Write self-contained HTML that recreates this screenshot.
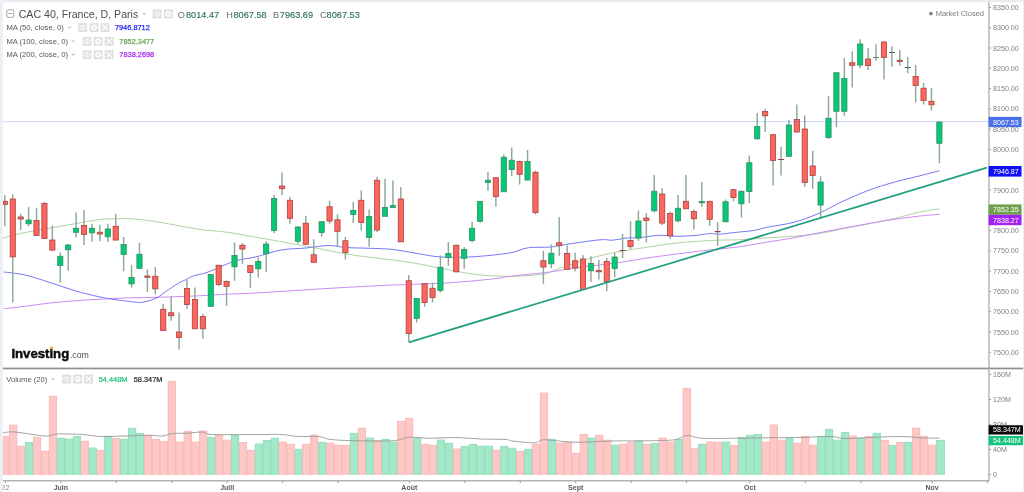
<!DOCTYPE html>
<html lang="fr"><head><meta charset="utf-8"><title>CAC 40, France, D, Paris</title>
<style>html,body{margin:0;padding:0;background:#fff;overflow:hidden}svg{display:block;will-change:transform;font-family:"Liberation Sans", sans-serif}text{white-space:pre}</style>
</head><body>
<svg width="1024" height="492" viewBox="0 0 1024 492">
<rect width="1024" height="492" fill="#fff"/>
<rect x="0" y="0" width="1024" height="2.3" fill="#e9ecf1"/>
<rect x="1023" y="0" width="1" height="492" fill="#eceff4"/>
<g shape-rendering="crispEdges">
<rect x="3.00" y="436.00" width="6.39" height="38.50" fill="#fdc8c6"/>
<rect x="9.39" y="424.50" width="7.92" height="50.00" fill="#fdc8c6"/>
<rect x="17.31" y="446.00" width="7.92" height="28.50" fill="#fdc8c6"/>
<rect x="25.23" y="442.25" width="7.92" height="32.25" fill="#a3e8c9"/>
<rect x="33.15" y="437.00" width="7.92" height="37.50" fill="#fdc8c6"/>
<rect x="41.07" y="450.75" width="7.92" height="23.75" fill="#fdc8c6"/>
<rect x="48.99" y="396.00" width="7.92" height="78.50" fill="#fdc8c6"/>
<rect x="56.91" y="437.75" width="7.92" height="36.75" fill="#a3e8c9"/>
<rect x="64.83" y="438.50" width="7.92" height="36.00" fill="#a3e8c9"/>
<rect x="72.75" y="436.25" width="7.92" height="38.25" fill="#a3e8c9"/>
<rect x="80.67" y="441.00" width="7.92" height="33.50" fill="#fdc8c6"/>
<rect x="88.59" y="447.50" width="7.92" height="27.00" fill="#a3e8c9"/>
<rect x="96.51" y="450.00" width="7.92" height="24.50" fill="#fdc8c6"/>
<rect x="104.43" y="436.00" width="7.92" height="38.50" fill="#a3e8c9"/>
<rect x="112.35" y="438.25" width="7.92" height="36.25" fill="#fdc8c6"/>
<rect x="120.27" y="439.00" width="7.92" height="35.50" fill="#a3e8c9"/>
<rect x="128.19" y="428.00" width="7.92" height="46.50" fill="#a3e8c9"/>
<rect x="136.11" y="433.25" width="7.92" height="41.25" fill="#a3e8c9"/>
<rect x="144.03" y="435.25" width="7.92" height="39.25" fill="#fdc8c6"/>
<rect x="151.95" y="439.00" width="7.92" height="35.50" fill="#fdc8c6"/>
<rect x="159.87" y="441.00" width="7.92" height="33.50" fill="#fdc8c6"/>
<rect x="167.79" y="381.00" width="7.92" height="93.50" fill="#fdc8c6"/>
<rect x="175.71" y="441.50" width="7.92" height="33.00" fill="#fdc8c6"/>
<rect x="183.63" y="431.00" width="7.92" height="43.50" fill="#fdc8c6"/>
<rect x="191.55" y="441.50" width="7.92" height="33.00" fill="#fdc8c6"/>
<rect x="199.47" y="430.50" width="7.92" height="44.00" fill="#fdc8c6"/>
<rect x="207.39" y="437.00" width="7.92" height="37.50" fill="#a3e8c9"/>
<rect x="215.31" y="435.00" width="7.92" height="39.50" fill="#fdc8c6"/>
<rect x="223.23" y="439.75" width="7.92" height="34.75" fill="#fdc8c6"/>
<rect x="231.15" y="434.50" width="7.92" height="40.00" fill="#a3e8c9"/>
<rect x="239.07" y="442.25" width="7.92" height="32.25" fill="#fdc8c6"/>
<rect x="246.99" y="450.00" width="7.92" height="24.50" fill="#fdc8c6"/>
<rect x="254.91" y="443.50" width="7.92" height="31.00" fill="#a3e8c9"/>
<rect x="262.83" y="440.25" width="7.92" height="34.25" fill="#a3e8c9"/>
<rect x="270.75" y="437.75" width="7.92" height="36.75" fill="#a3e8c9"/>
<rect x="278.67" y="441.50" width="7.92" height="33.00" fill="#fdc8c6"/>
<rect x="286.59" y="444.00" width="7.92" height="30.50" fill="#fdc8c6"/>
<rect x="294.51" y="449.00" width="7.92" height="25.50" fill="#a3e8c9"/>
<rect x="302.43" y="444.00" width="7.92" height="30.50" fill="#fdc8c6"/>
<rect x="310.35" y="434.50" width="7.92" height="40.00" fill="#fdc8c6"/>
<rect x="318.27" y="442.00" width="7.92" height="32.50" fill="#a3e8c9"/>
<rect x="326.19" y="442.75" width="7.92" height="31.75" fill="#fdc8c6"/>
<rect x="334.11" y="444.75" width="7.92" height="29.75" fill="#fdc8c6"/>
<rect x="342.03" y="445.25" width="7.92" height="29.25" fill="#fdc8c6"/>
<rect x="349.95" y="433.00" width="7.92" height="41.50" fill="#a3e8c9"/>
<rect x="357.87" y="427.75" width="7.92" height="46.75" fill="#fdc8c6"/>
<rect x="365.79" y="437.50" width="7.92" height="37.00" fill="#a3e8c9"/>
<rect x="373.71" y="440.25" width="7.92" height="34.25" fill="#fdc8c6"/>
<rect x="381.63" y="439.00" width="7.92" height="35.50" fill="#a3e8c9"/>
<rect x="389.55" y="441.75" width="7.92" height="32.75" fill="#a3e8c9"/>
<rect x="397.47" y="421.00" width="7.92" height="53.50" fill="#fdc8c6"/>
<rect x="405.39" y="418.00" width="7.92" height="56.50" fill="#fdc8c6"/>
<rect x="413.31" y="437.75" width="7.92" height="36.75" fill="#a3e8c9"/>
<rect x="421.23" y="444.00" width="7.92" height="30.50" fill="#fdc8c6"/>
<rect x="429.15" y="445.25" width="7.92" height="29.25" fill="#fdc8c6"/>
<rect x="437.07" y="439.50" width="7.92" height="35.00" fill="#a3e8c9"/>
<rect x="444.99" y="442.75" width="7.92" height="31.75" fill="#a3e8c9"/>
<rect x="452.91" y="448.50" width="7.92" height="26.00" fill="#fdc8c6"/>
<rect x="460.83" y="446.00" width="7.92" height="28.50" fill="#a3e8c9"/>
<rect x="468.75" y="444.00" width="7.92" height="30.50" fill="#a3e8c9"/>
<rect x="476.67" y="445.75" width="7.92" height="28.75" fill="#a3e8c9"/>
<rect x="484.59" y="445.75" width="7.92" height="28.75" fill="#a3e8c9"/>
<rect x="492.51" y="449.75" width="7.92" height="24.75" fill="#fdc8c6"/>
<rect x="500.43" y="446.00" width="7.92" height="28.50" fill="#a3e8c9"/>
<rect x="508.35" y="447.75" width="7.92" height="26.75" fill="#a3e8c9"/>
<rect x="516.27" y="451.00" width="7.92" height="23.50" fill="#fdc8c6"/>
<rect x="524.19" y="449.00" width="7.92" height="25.50" fill="#a3e8c9"/>
<rect x="532.11" y="444.00" width="7.92" height="30.50" fill="#fdc8c6"/>
<rect x="540.03" y="392.50" width="7.92" height="82.00" fill="#fdc8c6"/>
<rect x="547.95" y="439.00" width="7.92" height="35.50" fill="#a3e8c9"/>
<rect x="555.87" y="442.75" width="7.92" height="31.75" fill="#fdc8c6"/>
<rect x="563.79" y="441.50" width="7.92" height="33.00" fill="#fdc8c6"/>
<rect x="571.71" y="452.75" width="7.92" height="21.75" fill="#fdc8c6"/>
<rect x="579.63" y="434.25" width="7.92" height="40.25" fill="#fdc8c6"/>
<rect x="587.55" y="437.50" width="7.92" height="37.00" fill="#a3e8c9"/>
<rect x="595.47" y="435.00" width="7.92" height="39.50" fill="#fdc8c6"/>
<rect x="603.39" y="439.75" width="7.92" height="34.75" fill="#fdc8c6"/>
<rect x="611.31" y="444.75" width="7.92" height="29.75" fill="#a3e8c9"/>
<rect x="619.23" y="444.00" width="7.92" height="30.50" fill="#fdc8c6"/>
<rect x="627.15" y="441.75" width="7.92" height="32.75" fill="#fdc8c6"/>
<rect x="635.07" y="440.50" width="7.92" height="34.00" fill="#a3e8c9"/>
<rect x="642.99" y="444.00" width="7.92" height="30.50" fill="#fdc8c6"/>
<rect x="650.91" y="443.00" width="7.92" height="31.50" fill="#a3e8c9"/>
<rect x="658.83" y="437.50" width="7.92" height="37.00" fill="#fdc8c6"/>
<rect x="666.75" y="441.50" width="7.92" height="33.00" fill="#fdc8c6"/>
<rect x="674.67" y="439.00" width="7.92" height="35.50" fill="#a3e8c9"/>
<rect x="682.59" y="388.00" width="7.92" height="86.50" fill="#fdc8c6"/>
<rect x="690.51" y="448.00" width="7.92" height="26.50" fill="#fdc8c6"/>
<rect x="698.43" y="444.00" width="7.92" height="30.50" fill="#a3e8c9"/>
<rect x="706.35" y="441.50" width="7.92" height="33.00" fill="#fdc8c6"/>
<rect x="714.27" y="442.00" width="7.92" height="32.50" fill="#fdc8c6"/>
<rect x="722.19" y="441.50" width="7.92" height="33.00" fill="#a3e8c9"/>
<rect x="730.11" y="445.25" width="7.92" height="29.25" fill="#fdc8c6"/>
<rect x="738.03" y="437.00" width="7.92" height="37.50" fill="#a3e8c9"/>
<rect x="745.95" y="435.00" width="7.92" height="39.50" fill="#a3e8c9"/>
<rect x="753.87" y="434.25" width="7.92" height="40.25" fill="#a3e8c9"/>
<rect x="761.79" y="441.50" width="7.92" height="33.00" fill="#fdc8c6"/>
<rect x="769.71" y="424.50" width="7.92" height="50.00" fill="#fdc8c6"/>
<rect x="777.63" y="439.75" width="7.92" height="34.75" fill="#fdc8c6"/>
<rect x="785.55" y="438.00" width="7.92" height="36.50" fill="#a3e8c9"/>
<rect x="793.47" y="442.75" width="7.92" height="31.75" fill="#fdc8c6"/>
<rect x="801.39" y="436.00" width="7.92" height="38.50" fill="#fdc8c6"/>
<rect x="809.31" y="444.75" width="7.92" height="29.75" fill="#fdc8c6"/>
<rect x="817.23" y="436.00" width="7.92" height="38.50" fill="#a3e8c9"/>
<rect x="825.15" y="429.00" width="7.92" height="45.50" fill="#a3e8c9"/>
<rect x="833.07" y="439.75" width="7.92" height="34.75" fill="#a3e8c9"/>
<rect x="840.99" y="432.25" width="7.92" height="42.25" fill="#a3e8c9"/>
<rect x="848.91" y="435.50" width="7.92" height="39.00" fill="#fdc8c6"/>
<rect x="856.83" y="437.75" width="7.92" height="36.75" fill="#a3e8c9"/>
<rect x="864.75" y="436.00" width="7.92" height="38.50" fill="#fdc8c6"/>
<rect x="872.67" y="433.00" width="7.92" height="41.50" fill="#a3e8c9"/>
<rect x="880.59" y="440.00" width="7.92" height="34.50" fill="#fdc8c6"/>
<rect x="888.51" y="445.25" width="7.92" height="29.25" fill="#a3e8c9"/>
<rect x="896.43" y="442.00" width="7.92" height="32.50" fill="#fdc8c6"/>
<rect x="904.35" y="442.00" width="7.92" height="32.50" fill="#a3e8c9"/>
<rect x="912.27" y="427.75" width="7.92" height="46.75" fill="#fdc8c6"/>
<rect x="920.19" y="436.00" width="7.92" height="38.50" fill="#fdc8c6"/>
<rect x="928.11" y="444.75" width="7.92" height="29.75" fill="#fdc8c6"/>
<rect x="936.03" y="440.00" width="8.72" height="34.50" fill="#a3e8c9"/>
</g>
<path d="M3.30 474.50V436.30H9.09V474.50" fill="none" stroke="#f6b6b3" stroke-width="0.6"/>
<path d="M9.69 474.50V424.80H17.01V474.50" fill="none" stroke="#f6b6b3" stroke-width="0.6"/>
<path d="M17.61 474.50V446.30H24.93V474.50" fill="none" stroke="#f6b6b3" stroke-width="0.6"/>
<path d="M25.53 474.50V442.55H32.85V474.50" fill="none" stroke="#8fdcb9" stroke-width="0.6"/>
<path d="M33.45 474.50V437.30H40.77V474.50" fill="none" stroke="#f6b6b3" stroke-width="0.6"/>
<path d="M41.37 474.50V451.05H48.69V474.50" fill="none" stroke="#f6b6b3" stroke-width="0.6"/>
<path d="M49.29 474.50V396.30H56.61V474.50" fill="none" stroke="#f6b6b3" stroke-width="0.6"/>
<path d="M57.21 474.50V438.05H64.53V474.50" fill="none" stroke="#8fdcb9" stroke-width="0.6"/>
<path d="M65.13 474.50V438.80H72.45V474.50" fill="none" stroke="#8fdcb9" stroke-width="0.6"/>
<path d="M73.05 474.50V436.55H80.37V474.50" fill="none" stroke="#8fdcb9" stroke-width="0.6"/>
<path d="M80.97 474.50V441.30H88.29V474.50" fill="none" stroke="#f6b6b3" stroke-width="0.6"/>
<path d="M88.89 474.50V447.80H96.21V474.50" fill="none" stroke="#8fdcb9" stroke-width="0.6"/>
<path d="M96.81 474.50V450.30H104.13V474.50" fill="none" stroke="#f6b6b3" stroke-width="0.6"/>
<path d="M104.73 474.50V436.30H112.05V474.50" fill="none" stroke="#8fdcb9" stroke-width="0.6"/>
<path d="M112.65 474.50V438.55H119.97V474.50" fill="none" stroke="#f6b6b3" stroke-width="0.6"/>
<path d="M120.57 474.50V439.30H127.89V474.50" fill="none" stroke="#8fdcb9" stroke-width="0.6"/>
<path d="M128.49 474.50V428.30H135.81V474.50" fill="none" stroke="#8fdcb9" stroke-width="0.6"/>
<path d="M136.41 474.50V433.55H143.73V474.50" fill="none" stroke="#8fdcb9" stroke-width="0.6"/>
<path d="M144.33 474.50V435.55H151.65V474.50" fill="none" stroke="#f6b6b3" stroke-width="0.6"/>
<path d="M152.25 474.50V439.30H159.57V474.50" fill="none" stroke="#f6b6b3" stroke-width="0.6"/>
<path d="M160.17 474.50V441.30H167.49V474.50" fill="none" stroke="#f6b6b3" stroke-width="0.6"/>
<path d="M168.09 474.50V381.30H175.41V474.50" fill="none" stroke="#f6b6b3" stroke-width="0.6"/>
<path d="M176.01 474.50V441.80H183.33V474.50" fill="none" stroke="#f6b6b3" stroke-width="0.6"/>
<path d="M183.93 474.50V431.30H191.25V474.50" fill="none" stroke="#f6b6b3" stroke-width="0.6"/>
<path d="M191.85 474.50V441.80H199.17V474.50" fill="none" stroke="#f6b6b3" stroke-width="0.6"/>
<path d="M199.77 474.50V430.80H207.09V474.50" fill="none" stroke="#f6b6b3" stroke-width="0.6"/>
<path d="M207.69 474.50V437.30H215.01V474.50" fill="none" stroke="#8fdcb9" stroke-width="0.6"/>
<path d="M215.61 474.50V435.30H222.93V474.50" fill="none" stroke="#f6b6b3" stroke-width="0.6"/>
<path d="M223.53 474.50V440.05H230.85V474.50" fill="none" stroke="#f6b6b3" stroke-width="0.6"/>
<path d="M231.45 474.50V434.80H238.77V474.50" fill="none" stroke="#8fdcb9" stroke-width="0.6"/>
<path d="M239.37 474.50V442.55H246.69V474.50" fill="none" stroke="#f6b6b3" stroke-width="0.6"/>
<path d="M247.29 474.50V450.30H254.61V474.50" fill="none" stroke="#f6b6b3" stroke-width="0.6"/>
<path d="M255.21 474.50V443.80H262.53V474.50" fill="none" stroke="#8fdcb9" stroke-width="0.6"/>
<path d="M263.13 474.50V440.55H270.45V474.50" fill="none" stroke="#8fdcb9" stroke-width="0.6"/>
<path d="M271.05 474.50V438.05H278.37V474.50" fill="none" stroke="#8fdcb9" stroke-width="0.6"/>
<path d="M278.97 474.50V441.80H286.29V474.50" fill="none" stroke="#f6b6b3" stroke-width="0.6"/>
<path d="M286.89 474.50V444.30H294.21V474.50" fill="none" stroke="#f6b6b3" stroke-width="0.6"/>
<path d="M294.81 474.50V449.30H302.13V474.50" fill="none" stroke="#8fdcb9" stroke-width="0.6"/>
<path d="M302.73 474.50V444.30H310.05V474.50" fill="none" stroke="#f6b6b3" stroke-width="0.6"/>
<path d="M310.65 474.50V434.80H317.97V474.50" fill="none" stroke="#f6b6b3" stroke-width="0.6"/>
<path d="M318.57 474.50V442.30H325.89V474.50" fill="none" stroke="#8fdcb9" stroke-width="0.6"/>
<path d="M326.49 474.50V443.05H333.81V474.50" fill="none" stroke="#f6b6b3" stroke-width="0.6"/>
<path d="M334.41 474.50V445.05H341.73V474.50" fill="none" stroke="#f6b6b3" stroke-width="0.6"/>
<path d="M342.33 474.50V445.55H349.65V474.50" fill="none" stroke="#f6b6b3" stroke-width="0.6"/>
<path d="M350.25 474.50V433.30H357.57V474.50" fill="none" stroke="#8fdcb9" stroke-width="0.6"/>
<path d="M358.17 474.50V428.05H365.49V474.50" fill="none" stroke="#f6b6b3" stroke-width="0.6"/>
<path d="M366.09 474.50V437.80H373.41V474.50" fill="none" stroke="#8fdcb9" stroke-width="0.6"/>
<path d="M374.01 474.50V440.55H381.33V474.50" fill="none" stroke="#f6b6b3" stroke-width="0.6"/>
<path d="M381.93 474.50V439.30H389.25V474.50" fill="none" stroke="#8fdcb9" stroke-width="0.6"/>
<path d="M389.85 474.50V442.05H397.17V474.50" fill="none" stroke="#8fdcb9" stroke-width="0.6"/>
<path d="M397.77 474.50V421.30H405.09V474.50" fill="none" stroke="#f6b6b3" stroke-width="0.6"/>
<path d="M405.69 474.50V418.30H413.01V474.50" fill="none" stroke="#f6b6b3" stroke-width="0.6"/>
<path d="M413.61 474.50V438.05H420.93V474.50" fill="none" stroke="#8fdcb9" stroke-width="0.6"/>
<path d="M421.53 474.50V444.30H428.85V474.50" fill="none" stroke="#f6b6b3" stroke-width="0.6"/>
<path d="M429.45 474.50V445.55H436.77V474.50" fill="none" stroke="#f6b6b3" stroke-width="0.6"/>
<path d="M437.37 474.50V439.80H444.69V474.50" fill="none" stroke="#8fdcb9" stroke-width="0.6"/>
<path d="M445.29 474.50V443.05H452.61V474.50" fill="none" stroke="#8fdcb9" stroke-width="0.6"/>
<path d="M453.21 474.50V448.80H460.53V474.50" fill="none" stroke="#f6b6b3" stroke-width="0.6"/>
<path d="M461.13 474.50V446.30H468.45V474.50" fill="none" stroke="#8fdcb9" stroke-width="0.6"/>
<path d="M469.05 474.50V444.30H476.37V474.50" fill="none" stroke="#8fdcb9" stroke-width="0.6"/>
<path d="M476.97 474.50V446.05H484.29V474.50" fill="none" stroke="#8fdcb9" stroke-width="0.6"/>
<path d="M484.89 474.50V446.05H492.21V474.50" fill="none" stroke="#8fdcb9" stroke-width="0.6"/>
<path d="M492.81 474.50V450.05H500.13V474.50" fill="none" stroke="#f6b6b3" stroke-width="0.6"/>
<path d="M500.73 474.50V446.30H508.05V474.50" fill="none" stroke="#8fdcb9" stroke-width="0.6"/>
<path d="M508.65 474.50V448.05H515.97V474.50" fill="none" stroke="#8fdcb9" stroke-width="0.6"/>
<path d="M516.57 474.50V451.30H523.89V474.50" fill="none" stroke="#f6b6b3" stroke-width="0.6"/>
<path d="M524.49 474.50V449.30H531.81V474.50" fill="none" stroke="#8fdcb9" stroke-width="0.6"/>
<path d="M532.41 474.50V444.30H539.73V474.50" fill="none" stroke="#f6b6b3" stroke-width="0.6"/>
<path d="M540.33 474.50V392.80H547.65V474.50" fill="none" stroke="#f6b6b3" stroke-width="0.6"/>
<path d="M548.25 474.50V439.30H555.57V474.50" fill="none" stroke="#8fdcb9" stroke-width="0.6"/>
<path d="M556.17 474.50V443.05H563.49V474.50" fill="none" stroke="#f6b6b3" stroke-width="0.6"/>
<path d="M564.09 474.50V441.80H571.41V474.50" fill="none" stroke="#f6b6b3" stroke-width="0.6"/>
<path d="M572.01 474.50V453.05H579.33V474.50" fill="none" stroke="#f6b6b3" stroke-width="0.6"/>
<path d="M579.93 474.50V434.55H587.25V474.50" fill="none" stroke="#f6b6b3" stroke-width="0.6"/>
<path d="M587.85 474.50V437.80H595.17V474.50" fill="none" stroke="#8fdcb9" stroke-width="0.6"/>
<path d="M595.77 474.50V435.30H603.09V474.50" fill="none" stroke="#f6b6b3" stroke-width="0.6"/>
<path d="M603.69 474.50V440.05H611.01V474.50" fill="none" stroke="#f6b6b3" stroke-width="0.6"/>
<path d="M611.61 474.50V445.05H618.93V474.50" fill="none" stroke="#8fdcb9" stroke-width="0.6"/>
<path d="M619.53 474.50V444.30H626.85V474.50" fill="none" stroke="#f6b6b3" stroke-width="0.6"/>
<path d="M627.45 474.50V442.05H634.77V474.50" fill="none" stroke="#f6b6b3" stroke-width="0.6"/>
<path d="M635.37 474.50V440.80H642.69V474.50" fill="none" stroke="#8fdcb9" stroke-width="0.6"/>
<path d="M643.29 474.50V444.30H650.61V474.50" fill="none" stroke="#f6b6b3" stroke-width="0.6"/>
<path d="M651.21 474.50V443.30H658.53V474.50" fill="none" stroke="#8fdcb9" stroke-width="0.6"/>
<path d="M659.13 474.50V437.80H666.45V474.50" fill="none" stroke="#f6b6b3" stroke-width="0.6"/>
<path d="M667.05 474.50V441.80H674.37V474.50" fill="none" stroke="#f6b6b3" stroke-width="0.6"/>
<path d="M674.97 474.50V439.30H682.29V474.50" fill="none" stroke="#8fdcb9" stroke-width="0.6"/>
<path d="M682.89 474.50V388.30H690.21V474.50" fill="none" stroke="#f6b6b3" stroke-width="0.6"/>
<path d="M690.81 474.50V448.30H698.13V474.50" fill="none" stroke="#f6b6b3" stroke-width="0.6"/>
<path d="M698.73 474.50V444.30H706.05V474.50" fill="none" stroke="#8fdcb9" stroke-width="0.6"/>
<path d="M706.65 474.50V441.80H713.97V474.50" fill="none" stroke="#f6b6b3" stroke-width="0.6"/>
<path d="M714.57 474.50V442.30H721.89V474.50" fill="none" stroke="#f6b6b3" stroke-width="0.6"/>
<path d="M722.49 474.50V441.80H729.81V474.50" fill="none" stroke="#8fdcb9" stroke-width="0.6"/>
<path d="M730.41 474.50V445.55H737.73V474.50" fill="none" stroke="#f6b6b3" stroke-width="0.6"/>
<path d="M738.33 474.50V437.30H745.65V474.50" fill="none" stroke="#8fdcb9" stroke-width="0.6"/>
<path d="M746.25 474.50V435.30H753.57V474.50" fill="none" stroke="#8fdcb9" stroke-width="0.6"/>
<path d="M754.17 474.50V434.55H761.49V474.50" fill="none" stroke="#8fdcb9" stroke-width="0.6"/>
<path d="M762.09 474.50V441.80H769.41V474.50" fill="none" stroke="#f6b6b3" stroke-width="0.6"/>
<path d="M770.01 474.50V424.80H777.33V474.50" fill="none" stroke="#f6b6b3" stroke-width="0.6"/>
<path d="M777.93 474.50V440.05H785.25V474.50" fill="none" stroke="#f6b6b3" stroke-width="0.6"/>
<path d="M785.85 474.50V438.30H793.17V474.50" fill="none" stroke="#8fdcb9" stroke-width="0.6"/>
<path d="M793.77 474.50V443.05H801.09V474.50" fill="none" stroke="#f6b6b3" stroke-width="0.6"/>
<path d="M801.69 474.50V436.30H809.01V474.50" fill="none" stroke="#f6b6b3" stroke-width="0.6"/>
<path d="M809.61 474.50V445.05H816.93V474.50" fill="none" stroke="#f6b6b3" stroke-width="0.6"/>
<path d="M817.53 474.50V436.30H824.85V474.50" fill="none" stroke="#8fdcb9" stroke-width="0.6"/>
<path d="M825.45 474.50V429.30H832.77V474.50" fill="none" stroke="#8fdcb9" stroke-width="0.6"/>
<path d="M833.37 474.50V440.05H840.69V474.50" fill="none" stroke="#8fdcb9" stroke-width="0.6"/>
<path d="M841.29 474.50V432.55H848.61V474.50" fill="none" stroke="#8fdcb9" stroke-width="0.6"/>
<path d="M849.21 474.50V435.80H856.53V474.50" fill="none" stroke="#f6b6b3" stroke-width="0.6"/>
<path d="M857.13 474.50V438.05H864.45V474.50" fill="none" stroke="#8fdcb9" stroke-width="0.6"/>
<path d="M865.05 474.50V436.30H872.37V474.50" fill="none" stroke="#f6b6b3" stroke-width="0.6"/>
<path d="M872.97 474.50V433.30H880.29V474.50" fill="none" stroke="#8fdcb9" stroke-width="0.6"/>
<path d="M880.89 474.50V440.30H888.21V474.50" fill="none" stroke="#f6b6b3" stroke-width="0.6"/>
<path d="M888.81 474.50V445.55H896.13V474.50" fill="none" stroke="#8fdcb9" stroke-width="0.6"/>
<path d="M896.73 474.50V442.30H904.05V474.50" fill="none" stroke="#f6b6b3" stroke-width="0.6"/>
<path d="M904.65 474.50V442.30H911.97V474.50" fill="none" stroke="#8fdcb9" stroke-width="0.6"/>
<path d="M912.57 474.50V428.05H919.89V474.50" fill="none" stroke="#f6b6b3" stroke-width="0.6"/>
<path d="M920.49 474.50V436.30H927.81V474.50" fill="none" stroke="#f6b6b3" stroke-width="0.6"/>
<path d="M928.41 474.50V445.05H935.73V474.50" fill="none" stroke="#f6b6b3" stroke-width="0.6"/>
<path d="M936.33 474.50V440.30H944.45V474.50" fill="none" stroke="#8fdcb9" stroke-width="0.6"/>
<path fill="none" stroke="#989898" stroke-width="0.9" d="M3.00 432.75C5.00 432.62 8.00 431.46 15.00 432.00C22.00 432.54 37.92 435.67 45.00 436.00C52.08 436.33 51.25 434.25 57.50 434.00C63.75 433.75 75.42 434.08 82.50 434.50C89.58 434.92 92.92 436.25 100.00 436.50C107.08 436.75 116.67 436.21 125.00 436.00C133.33 435.79 143.75 435.25 150.00 435.25C156.25 435.25 158.75 436.29 162.50 436.00C166.25 435.71 168.33 433.96 172.50 433.50C176.67 433.04 182.50 433.50 187.50 433.25C192.50 433.00 198.33 431.79 202.50 432.00C206.67 432.21 203.58 434.08 212.50 434.50C221.42 434.92 244.58 434.50 256.00 434.50C267.42 434.50 273.92 434.17 281.00 434.50C288.08 434.83 292.25 436.17 298.50 436.50C304.75 436.83 313.08 436.00 318.50 436.50C323.92 437.00 324.75 438.79 331.00 439.50C337.25 440.21 345.58 440.54 356.00 440.75C366.42 440.96 384.75 441.33 393.50 440.75C402.25 440.17 402.25 437.67 408.50 437.25C414.75 436.83 423.08 438.21 431.00 438.25C438.92 438.29 447.67 437.38 456.00 437.50C464.33 437.62 472.67 438.67 481.00 439.00C489.33 439.33 500.83 439.17 506.00 439.50C511.17 439.83 507.25 440.46 512.00 441.00C516.75 441.54 529.08 442.96 534.50 442.75C539.92 442.54 537.83 439.83 544.50 439.75C551.17 439.67 563.25 442.04 574.50 442.25C585.75 442.46 599.50 441.25 612.00 441.00C624.50 440.75 639.08 440.96 649.50 440.75C659.92 440.54 668.25 440.62 674.50 439.75C680.75 438.88 682.42 435.75 687.00 435.50C691.58 435.25 693.67 437.79 702.00 438.25C710.33 438.71 726.00 438.33 737.00 438.25C748.00 438.17 757.50 437.88 768.00 437.75C778.50 437.62 789.67 437.71 800.00 437.50C810.33 437.29 822.50 436.33 830.00 436.50C837.50 436.67 838.33 438.33 845.00 438.50C851.67 438.67 860.83 437.83 870.00 437.50C879.17 437.17 890.83 436.42 900.00 436.50C909.17 436.58 918.42 437.75 925.00 438.00C931.58 438.25 937.08 438.00 939.50 438.00"/>
<path fill="none" stroke="#abd19d" stroke-width="0.95" d="M3.00 238.00C6.67 237.08 17.17 234.17 25.00 232.50C32.83 230.83 41.67 229.46 50.00 228.00C58.33 226.54 66.67 225.17 75.00 223.75C83.33 222.33 93.33 220.33 100.00 219.50C106.67 218.67 110.00 218.88 115.00 218.75C120.00 218.62 124.17 218.42 130.00 218.75C135.83 219.08 142.50 219.71 150.00 220.75C157.50 221.79 166.67 223.54 175.00 225.00C183.33 226.46 191.67 228.33 200.00 229.50C208.33 230.67 215.67 230.72 225.00 232.00C234.33 233.28 242.50 234.82 256.00 237.20C269.50 239.57 289.33 243.20 306.00 246.25C322.67 249.30 339.33 252.92 356.00 255.50C372.67 258.08 389.33 259.12 406.00 261.75C422.67 264.38 443.50 269.04 456.00 271.25C468.50 273.46 471.67 274.16 481.00 275.00C490.33 275.84 501.58 276.43 512.00 276.30C522.42 276.17 536.57 275.18 543.50 274.20C550.43 273.22 550.02 271.63 553.60 270.40C557.18 269.17 559.33 268.68 565.00 266.80C570.67 264.92 579.63 261.43 587.60 259.10C595.57 256.77 604.07 254.60 612.80 252.80C621.53 251.00 629.17 249.95 640.00 248.30C650.83 246.65 665.20 244.23 677.80 242.90C690.40 241.57 705.10 240.83 715.60 240.30C726.10 239.77 732.07 240.12 740.80 239.70C749.53 239.28 759.30 238.38 768.00 237.80C776.70 237.23 784.67 236.93 793.00 236.25C801.33 235.57 809.67 235.00 818.00 233.75C826.33 232.50 834.67 230.42 843.00 228.75C851.33 227.08 859.67 225.42 868.00 223.75C876.33 222.08 884.67 220.62 893.00 218.75C901.33 216.88 910.25 214.17 918.00 212.50C925.75 210.83 935.92 209.38 939.50 208.75"/>
<path fill="none" stroke="#c983f4" stroke-width="0.95" d="M3.75 308.75C7.29 308.33 17.29 307.21 25.00 306.25C32.71 305.29 41.67 303.92 50.00 303.00C58.33 302.08 66.67 301.38 75.00 300.75C83.33 300.12 91.67 299.71 100.00 299.25C108.33 298.79 116.67 298.29 125.00 298.00C133.33 297.71 141.67 297.71 150.00 297.50C158.33 297.29 166.67 297.04 175.00 296.75C183.33 296.46 191.67 296.17 200.00 295.75C208.33 295.33 215.67 294.71 225.00 294.25C234.33 293.79 238.33 294.00 256.00 293.00C273.67 292.00 309.67 289.52 331.00 288.25C352.33 286.98 371.00 286.02 384.00 285.40C397.00 284.77 398.50 284.92 409.00 284.50C419.50 284.08 436.50 283.48 447.00 282.90C457.50 282.32 463.67 281.75 472.00 281.00C480.33 280.25 490.33 279.22 497.00 278.40C503.67 277.58 503.20 277.17 512.00 276.10C520.80 275.03 539.30 273.37 549.80 272.00C560.30 270.63 566.63 269.07 575.00 267.90C583.37 266.73 591.60 266.05 600.00 265.00C608.40 263.95 618.73 262.58 625.40 261.60C632.07 260.62 634.83 259.92 640.00 259.10C645.17 258.28 648.00 257.83 656.40 256.70C664.80 255.57 680.53 253.52 690.40 252.30C700.27 251.08 707.20 250.35 715.60 249.40C724.00 248.45 732.07 247.85 740.80 246.60C749.53 245.35 759.30 243.33 768.00 241.90C776.70 240.47 784.67 239.48 793.00 238.00C801.33 236.52 809.67 234.62 818.00 233.00C826.33 231.38 834.67 229.79 843.00 228.25C851.33 226.71 859.67 225.21 868.00 223.75C876.33 222.29 884.67 220.75 893.00 219.50C901.33 218.25 910.25 217.12 918.00 216.25C925.75 215.38 935.92 214.58 939.50 214.25"/>
<path fill="none" stroke="#7070f6" stroke-width="0.95" d="M3.75 272.00C7.29 272.50 17.29 273.25 25.00 275.00C32.71 276.75 41.67 279.88 50.00 282.50C58.33 285.12 66.67 288.33 75.00 290.75C83.33 293.17 92.50 295.41 100.00 297.00C107.50 298.59 115.33 299.60 120.00 300.30C124.67 301.00 124.78 300.83 128.00 301.20C131.22 301.57 136.15 302.48 139.30 302.50C142.45 302.52 143.95 302.08 146.90 301.30C149.85 300.52 153.85 299.43 157.00 297.80C160.15 296.17 162.23 293.92 165.80 291.50C169.37 289.08 175.03 285.28 178.40 283.30C181.77 281.32 183.48 280.85 186.00 279.60C188.52 278.35 190.57 276.82 193.50 275.80C196.43 274.78 199.82 274.65 203.60 273.50C207.38 272.35 212.00 270.62 216.20 268.90C220.40 267.18 224.60 264.78 228.80 263.20C233.00 261.62 236.87 260.45 241.40 259.40C245.93 258.35 249.40 258.47 256.00 256.90C262.60 255.33 272.67 251.48 281.00 250.00C289.33 248.52 298.08 248.75 306.00 248.00C313.92 247.25 321.83 245.58 328.50 245.50C335.17 245.42 339.33 247.04 346.00 247.50C352.67 247.96 360.58 247.92 368.50 248.25C376.42 248.58 385.17 248.58 393.50 249.50C401.83 250.42 410.58 252.50 418.50 253.75C426.42 255.00 432.67 256.46 441.00 257.00C449.33 257.54 459.75 257.33 468.50 257.00C477.25 256.67 486.25 255.75 493.50 255.00C500.75 254.25 506.18 253.72 512.00 252.50C517.82 251.28 522.10 248.60 528.40 247.70C534.70 246.80 543.08 247.72 549.80 247.10C556.52 246.48 560.33 245.22 568.70 244.00C577.07 242.78 592.68 240.43 600.00 239.80C607.32 239.17 608.43 240.47 612.60 240.20C616.77 239.93 620.43 238.63 625.00 238.20C629.57 237.77 634.35 238.08 640.00 237.60C645.65 237.12 652.60 235.52 658.90 235.30C665.20 235.08 671.50 236.30 677.80 236.30C684.10 236.30 691.25 235.78 696.70 235.30C702.15 234.82 706.93 233.57 710.50 233.40C714.07 233.23 714.10 234.45 718.10 234.30C722.10 234.15 728.62 233.13 734.50 232.50C740.38 231.87 747.82 231.40 753.40 230.50C758.98 229.60 761.40 228.43 768.00 227.10C774.60 225.77 784.67 224.72 793.00 222.50C801.33 220.28 809.67 217.29 818.00 213.75C826.33 210.21 834.67 205.12 843.00 201.25C851.33 197.38 859.67 193.62 868.00 190.50C876.33 187.38 884.67 184.88 893.00 182.50C901.33 180.12 910.25 178.21 918.00 176.25C925.75 174.29 935.92 171.67 939.50 170.75"/>
<rect x="4.11" y="195.00" width="1.45" height="31.25" fill="#8ca999"/>
<rect x="3.40" y="201.25" width="4.03" height="3.30" fill="#fd665e" stroke="#a8423f" stroke-width="0.8"/>
<rect x="12.03" y="194.25" width="1.45" height="108.25" fill="#8ca999"/>
<rect x="10.15" y="199.00" width="5.20" height="57.80" fill="#fd665e" stroke="#a8423f" stroke-width="0.8"/>
<rect x="19.95" y="213.75" width="1.45" height="16.25" fill="#8ca999"/>
<rect x="18.07" y="217.00" width="5.20" height="2.05" fill="#fd665e" stroke="#a8423f" stroke-width="0.8"/>
<rect x="27.87" y="207.00" width="1.45" height="19.25" fill="#8ca999"/>
<rect x="25.99" y="220.00" width="5.20" height="3.80" fill="#06c875" stroke="#2f8f62" stroke-width="0.8"/>
<rect x="35.79" y="208.25" width="1.45" height="27.25" fill="#8ca999"/>
<rect x="33.91" y="220.50" width="5.20" height="15.05" fill="#fd665e" stroke="#a8423f" stroke-width="0.8"/>
<rect x="43.71" y="202.00" width="1.45" height="36.50" fill="#8ca999"/>
<rect x="41.83" y="203.50" width="5.20" height="35.05" fill="#fd665e" stroke="#a8423f" stroke-width="0.8"/>
<rect x="51.63" y="225.50" width="1.45" height="25.75" fill="#8ca999"/>
<rect x="49.75" y="240.00" width="5.20" height="10.05" fill="#fd665e" stroke="#a8423f" stroke-width="0.8"/>
<rect x="59.55" y="252.50" width="1.45" height="30.00" fill="#8ca999"/>
<rect x="57.67" y="256.25" width="5.20" height="9.30" fill="#06c875" stroke="#2f8f62" stroke-width="0.8"/>
<rect x="67.47" y="244.00" width="1.45" height="26.75" fill="#8ca999"/>
<rect x="65.59" y="245.00" width="5.20" height="4.80" fill="#06c875" stroke="#2f8f62" stroke-width="0.8"/>
<rect x="75.39" y="212.50" width="1.45" height="25.00" fill="#8ca999"/>
<rect x="73.51" y="228.25" width="5.20" height="4.05" fill="#06c875" stroke="#2f8f62" stroke-width="0.8"/>
<rect x="83.31" y="210.00" width="1.45" height="35.00" fill="#8ca999"/>
<rect x="81.43" y="225.50" width="5.20" height="8.80" fill="#fd665e" stroke="#a8423f" stroke-width="0.8"/>
<rect x="91.23" y="223.75" width="1.45" height="18.00" fill="#8ca999"/>
<rect x="89.35" y="228.25" width="5.20" height="4.55" fill="#06c875" stroke="#2f8f62" stroke-width="0.8"/>
<rect x="99.15" y="225.00" width="1.45" height="16.25" fill="#8ca999"/>
<rect x="97.27" y="232.25" width="5.20" height="1.80" fill="#fd665e" stroke="#a8423f" stroke-width="0.8"/>
<rect x="107.07" y="223.75" width="1.45" height="18.25" fill="#8ca999"/>
<rect x="105.19" y="229.00" width="5.20" height="7.80" fill="#06c875" stroke="#2f8f62" stroke-width="0.8"/>
<rect x="114.99" y="213.75" width="1.45" height="26.25" fill="#8ca999"/>
<rect x="113.11" y="226.25" width="5.20" height="13.80" fill="#fd665e" stroke="#a8423f" stroke-width="0.8"/>
<rect x="122.91" y="237.00" width="1.45" height="34.25" fill="#8ca999"/>
<rect x="121.03" y="244.50" width="5.20" height="10.05" fill="#06c875" stroke="#2f8f62" stroke-width="0.8"/>
<rect x="130.83" y="265.00" width="1.45" height="22.50" fill="#8ca999"/>
<rect x="128.95" y="277.50" width="5.20" height="6.30" fill="#06c875" stroke="#2f8f62" stroke-width="0.8"/>
<rect x="138.75" y="242.75" width="1.45" height="25.50" fill="#8ca999"/>
<rect x="136.87" y="254.25" width="5.20" height="14.05" fill="#06c875" stroke="#2f8f62" stroke-width="0.8"/>
<rect x="146.67" y="269.50" width="1.45" height="22.50" fill="#8ca999"/>
<rect x="144.79" y="276.00" width="5.20" height="1.30" fill="#fd665e" stroke="#a8423f" stroke-width="0.8"/>
<rect x="154.59" y="267.00" width="1.45" height="27.50" fill="#8ca999"/>
<rect x="152.71" y="276.25" width="5.20" height="12.55" fill="#fd665e" stroke="#a8423f" stroke-width="0.8"/>
<rect x="162.51" y="303.75" width="1.45" height="26.75" fill="#8ca999"/>
<rect x="160.63" y="309.25" width="5.20" height="21.30" fill="#fd665e" stroke="#a8423f" stroke-width="0.8"/>
<rect x="170.43" y="296.25" width="1.45" height="24.50" fill="#8ca999"/>
<rect x="168.55" y="312.75" width="5.20" height="3.05" fill="#fd665e" stroke="#a8423f" stroke-width="0.8"/>
<rect x="178.35" y="312.50" width="1.45" height="37.00" fill="#8ca999"/>
<rect x="176.47" y="332.00" width="5.20" height="5.55" fill="#fd665e" stroke="#a8423f" stroke-width="0.8"/>
<rect x="186.27" y="280.00" width="1.45" height="28.75" fill="#8ca999"/>
<rect x="184.39" y="288.50" width="5.20" height="16.05" fill="#fd665e" stroke="#a8423f" stroke-width="0.8"/>
<rect x="194.19" y="287.50" width="1.45" height="41.25" fill="#8ca999"/>
<rect x="192.31" y="299.50" width="5.20" height="29.30" fill="#fd665e" stroke="#a8423f" stroke-width="0.8"/>
<rect x="202.11" y="313.75" width="1.45" height="25.00" fill="#8ca999"/>
<rect x="200.23" y="316.50" width="5.20" height="12.30" fill="#fd665e" stroke="#a8423f" stroke-width="0.8"/>
<rect x="210.03" y="274.25" width="1.45" height="32.00" fill="#8ca999"/>
<rect x="208.15" y="274.50" width="5.20" height="31.80" fill="#06c875" stroke="#2f8f62" stroke-width="0.8"/>
<rect x="217.95" y="265.00" width="1.45" height="21.00" fill="#8ca999"/>
<rect x="216.07" y="265.25" width="5.20" height="19.30" fill="#fd665e" stroke="#a8423f" stroke-width="0.8"/>
<rect x="225.87" y="280.50" width="1.45" height="25.25" fill="#8ca999"/>
<rect x="223.99" y="281.50" width="5.20" height="4.80" fill="#fd665e" stroke="#a8423f" stroke-width="0.8"/>
<rect x="233.79" y="242.50" width="1.45" height="38.25" fill="#8ca999"/>
<rect x="231.91" y="255.50" width="5.20" height="11.30" fill="#06c875" stroke="#2f8f62" stroke-width="0.8"/>
<rect x="241.71" y="243.25" width="1.45" height="20.50" fill="#8ca999"/>
<rect x="239.83" y="245.25" width="5.20" height="3.80" fill="#fd665e" stroke="#a8423f" stroke-width="0.8"/>
<rect x="249.63" y="265.00" width="1.45" height="22.75" fill="#8ca999"/>
<rect x="247.75" y="265.50" width="5.20" height="7.05" fill="#fd665e" stroke="#a8423f" stroke-width="0.8"/>
<rect x="257.55" y="257.50" width="1.45" height="20.00" fill="#8ca999"/>
<rect x="255.67" y="261.50" width="5.20" height="7.30" fill="#06c875" stroke="#2f8f62" stroke-width="0.8"/>
<rect x="265.47" y="241.25" width="1.45" height="30.50" fill="#8ca999"/>
<rect x="263.59" y="244.00" width="5.20" height="9.80" fill="#06c875" stroke="#2f8f62" stroke-width="0.8"/>
<rect x="273.39" y="195.00" width="1.45" height="38.00" fill="#8ca999"/>
<rect x="271.51" y="198.50" width="5.20" height="32.05" fill="#06c875" stroke="#2f8f62" stroke-width="0.8"/>
<rect x="281.31" y="172.50" width="1.45" height="22.50" fill="#8ca999"/>
<rect x="279.43" y="186.00" width="5.20" height="2.65" fill="#fd665e" stroke="#a8423f" stroke-width="0.8"/>
<rect x="289.23" y="197.00" width="1.45" height="26.75" fill="#8ca999"/>
<rect x="287.35" y="200.25" width="5.20" height="18.05" fill="#fd665e" stroke="#a8423f" stroke-width="0.8"/>
<rect x="297.15" y="226.25" width="1.45" height="17.50" fill="#8ca999"/>
<rect x="295.27" y="227.00" width="5.20" height="14.30" fill="#06c875" stroke="#2f8f62" stroke-width="0.8"/>
<rect x="305.07" y="215.75" width="1.45" height="28.50" fill="#8ca999"/>
<rect x="303.19" y="223.25" width="5.20" height="21.05" fill="#fd665e" stroke="#a8423f" stroke-width="0.8"/>
<rect x="312.99" y="239.25" width="1.45" height="23.00" fill="#8ca999"/>
<rect x="311.11" y="254.75" width="5.20" height="7.55" fill="#fd665e" stroke="#a8423f" stroke-width="0.8"/>
<rect x="320.91" y="221.25" width="1.45" height="15.50" fill="#8ca999"/>
<rect x="319.03" y="221.75" width="5.20" height="10.80" fill="#06c875" stroke="#2f8f62" stroke-width="0.8"/>
<rect x="328.83" y="200.75" width="1.45" height="23.00" fill="#8ca999"/>
<rect x="326.95" y="206.75" width="5.20" height="14.30" fill="#fd665e" stroke="#a8423f" stroke-width="0.8"/>
<rect x="336.75" y="214.25" width="1.45" height="32.00" fill="#8ca999"/>
<rect x="334.87" y="219.75" width="5.20" height="11.55" fill="#fd665e" stroke="#a8423f" stroke-width="0.8"/>
<rect x="344.67" y="237.00" width="1.45" height="22.50" fill="#8ca999"/>
<rect x="342.79" y="240.75" width="5.20" height="11.80" fill="#fd665e" stroke="#a8423f" stroke-width="0.8"/>
<rect x="352.59" y="202.00" width="1.45" height="21.00" fill="#8ca999"/>
<rect x="350.71" y="210.50" width="5.20" height="4.05" fill="#06c875" stroke="#2f8f62" stroke-width="0.8"/>
<rect x="360.51" y="190.50" width="1.45" height="40.00" fill="#8ca999"/>
<rect x="358.63" y="200.25" width="5.20" height="22.30" fill="#fd665e" stroke="#a8423f" stroke-width="0.8"/>
<rect x="368.43" y="209.50" width="1.45" height="37.25" fill="#8ca999"/>
<rect x="366.55" y="216.50" width="5.20" height="21.05" fill="#06c875" stroke="#2f8f62" stroke-width="0.8"/>
<rect x="376.35" y="176.75" width="1.45" height="55.25" fill="#8ca999"/>
<rect x="374.47" y="180.25" width="5.20" height="49.80" fill="#fd665e" stroke="#a8423f" stroke-width="0.8"/>
<rect x="384.27" y="178.75" width="1.45" height="37.50" fill="#8ca999"/>
<rect x="382.39" y="207.50" width="5.20" height="8.80" fill="#06c875" stroke="#2f8f62" stroke-width="0.8"/>
<rect x="392.19" y="180.50" width="1.45" height="27.00" fill="#8ca999"/>
<rect x="390.31" y="205.50" width="5.20" height="2.05" fill="#06c875" stroke="#2f8f62" stroke-width="0.8"/>
<rect x="400.11" y="187.00" width="1.45" height="54.75" fill="#8ca999"/>
<rect x="398.23" y="199.00" width="5.20" height="42.80" fill="#fd665e" stroke="#a8423f" stroke-width="0.8"/>
<rect x="408.03" y="275.00" width="1.45" height="67.00" fill="#8ca999"/>
<rect x="406.15" y="280.75" width="5.20" height="52.90" fill="#fd665e" stroke="#a8423f" stroke-width="0.8"/>
<rect x="415.95" y="298.25" width="1.45" height="24.25" fill="#8ca999"/>
<rect x="414.07" y="298.50" width="5.20" height="19.80" fill="#06c875" stroke="#2f8f62" stroke-width="0.8"/>
<rect x="423.87" y="283.00" width="1.45" height="23.75" fill="#8ca999"/>
<rect x="421.99" y="283.75" width="5.20" height="18.80" fill="#fd665e" stroke="#a8423f" stroke-width="0.8"/>
<rect x="431.79" y="282.50" width="1.45" height="20.00" fill="#8ca999"/>
<rect x="429.91" y="288.25" width="5.20" height="9.30" fill="#fd665e" stroke="#a8423f" stroke-width="0.8"/>
<rect x="439.71" y="255.50" width="1.45" height="37.00" fill="#8ca999"/>
<rect x="437.83" y="267.25" width="5.20" height="23.30" fill="#06c875" stroke="#2f8f62" stroke-width="0.8"/>
<rect x="447.63" y="242.00" width="1.45" height="23.75" fill="#8ca999"/>
<rect x="445.75" y="253.50" width="5.20" height="4.05" fill="#06c875" stroke="#2f8f62" stroke-width="0.8"/>
<rect x="455.55" y="244.50" width="1.45" height="28.00" fill="#8ca999"/>
<rect x="453.67" y="245.25" width="5.20" height="26.55" fill="#fd665e" stroke="#a8423f" stroke-width="0.8"/>
<rect x="463.47" y="247.00" width="1.45" height="21.75" fill="#8ca999"/>
<rect x="461.59" y="249.50" width="5.20" height="8.80" fill="#06c875" stroke="#2f8f62" stroke-width="0.8"/>
<rect x="471.39" y="222.00" width="1.45" height="20.50" fill="#8ca999"/>
<rect x="469.51" y="228.25" width="5.20" height="12.30" fill="#06c875" stroke="#2f8f62" stroke-width="0.8"/>
<rect x="479.31" y="201.25" width="1.45" height="21.25" fill="#8ca999"/>
<rect x="477.43" y="201.50" width="5.20" height="19.80" fill="#06c875" stroke="#2f8f62" stroke-width="0.8"/>
<rect x="487.23" y="171.75" width="1.45" height="19.00" fill="#8ca999"/>
<rect x="485.35" y="180.25" width="5.20" height="2.30" fill="#06c875" stroke="#2f8f62" stroke-width="0.8"/>
<rect x="495.15" y="177.00" width="1.45" height="29.75" fill="#8ca999"/>
<rect x="493.27" y="177.75" width="5.20" height="18.80" fill="#fd665e" stroke="#a8423f" stroke-width="0.8"/>
<rect x="503.07" y="154.50" width="1.45" height="37.25" fill="#8ca999"/>
<rect x="501.19" y="157.25" width="5.20" height="34.55" fill="#06c875" stroke="#2f8f62" stroke-width="0.8"/>
<rect x="510.99" y="147.50" width="1.45" height="28.50" fill="#8ca999"/>
<rect x="509.11" y="160.25" width="5.20" height="9.30" fill="#06c875" stroke="#2f8f62" stroke-width="0.8"/>
<rect x="518.91" y="160.50" width="1.45" height="24.00" fill="#8ca999"/>
<rect x="517.03" y="161.50" width="5.20" height="12.80" fill="#fd665e" stroke="#a8423f" stroke-width="0.8"/>
<rect x="526.83" y="150.00" width="1.45" height="30.00" fill="#8ca999"/>
<rect x="524.95" y="161.50" width="5.20" height="18.55" fill="#06c875" stroke="#2f8f62" stroke-width="0.8"/>
<rect x="534.75" y="170.75" width="1.45" height="43.75" fill="#8ca999"/>
<rect x="532.87" y="172.25" width="5.20" height="40.30" fill="#fd665e" stroke="#a8423f" stroke-width="0.8"/>
<rect x="542.67" y="250.75" width="1.45" height="33.00" fill="#8ca999"/>
<rect x="540.79" y="260.75" width="5.20" height="6.30" fill="#fd665e" stroke="#a8423f" stroke-width="0.8"/>
<rect x="550.59" y="244.50" width="1.45" height="23.75" fill="#8ca999"/>
<rect x="548.71" y="253.25" width="5.20" height="10.55" fill="#06c875" stroke="#2f8f62" stroke-width="0.8"/>
<rect x="558.51" y="217.00" width="1.45" height="39.25" fill="#8ca999"/>
<rect x="556.63" y="242.75" width="5.20" height="2.80" fill="#fd665e" stroke="#a8423f" stroke-width="0.8"/>
<rect x="566.43" y="245.50" width="1.45" height="23.75" fill="#8ca999"/>
<rect x="564.55" y="253.50" width="5.20" height="15.80" fill="#fd665e" stroke="#a8423f" stroke-width="0.8"/>
<rect x="574.35" y="252.50" width="1.45" height="18.75" fill="#8ca999"/>
<rect x="572.47" y="260.75" width="5.20" height="7.30" fill="#fd665e" stroke="#a8423f" stroke-width="0.8"/>
<rect x="582.27" y="255.00" width="1.45" height="35.00" fill="#8ca999"/>
<rect x="580.39" y="259.00" width="5.20" height="30.55" fill="#fd665e" stroke="#a8423f" stroke-width="0.8"/>
<rect x="590.19" y="256.25" width="1.45" height="25.75" fill="#8ca999"/>
<rect x="588.31" y="263.50" width="5.20" height="7.30" fill="#06c875" stroke="#2f8f62" stroke-width="0.8"/>
<rect x="598.11" y="260.00" width="1.45" height="19.50" fill="#8ca999"/>
<rect x="596.23" y="270.50" width="5.20" height="1.30" fill="#fd665e" stroke="#a8423f" stroke-width="0.8"/>
<rect x="606.03" y="258.00" width="1.45" height="33.25" fill="#8ca999"/>
<rect x="604.15" y="261.50" width="5.20" height="20.05" fill="#fd665e" stroke="#a8423f" stroke-width="0.8"/>
<rect x="613.95" y="253.00" width="1.45" height="24.50" fill="#8ca999"/>
<rect x="612.07" y="257.00" width="5.20" height="11.55" fill="#06c875" stroke="#2f8f62" stroke-width="0.8"/>
<rect x="621.87" y="233.75" width="1.45" height="24.25" fill="#8ca999"/>
<rect x="619.59" y="250.00" width="6.00" height="1.00" fill="#a53d3b"/>
<rect x="629.79" y="221.25" width="1.45" height="28.25" fill="#8ca999"/>
<rect x="627.91" y="240.50" width="5.20" height="6.05" fill="#fd665e" stroke="#a8423f" stroke-width="0.8"/>
<rect x="637.71" y="210.50" width="1.45" height="30.25" fill="#8ca999"/>
<rect x="635.83" y="221.00" width="5.20" height="17.05" fill="#06c875" stroke="#2f8f62" stroke-width="0.8"/>
<rect x="645.63" y="213.25" width="1.45" height="29.25" fill="#8ca999"/>
<rect x="643.75" y="218.00" width="5.20" height="2.55" fill="#fd665e" stroke="#a8423f" stroke-width="0.8"/>
<rect x="653.55" y="175.00" width="1.45" height="37.50" fill="#8ca999"/>
<rect x="651.67" y="191.25" width="5.20" height="19.55" fill="#06c875" stroke="#2f8f62" stroke-width="0.8"/>
<rect x="661.47" y="188.25" width="1.45" height="36.75" fill="#8ca999"/>
<rect x="659.59" y="194.00" width="5.20" height="29.05" fill="#fd665e" stroke="#a8423f" stroke-width="0.8"/>
<rect x="669.39" y="211.75" width="1.45" height="27.25" fill="#8ca999"/>
<rect x="667.51" y="213.50" width="5.20" height="22.30" fill="#fd665e" stroke="#a8423f" stroke-width="0.8"/>
<rect x="677.31" y="195.00" width="1.45" height="27.50" fill="#8ca999"/>
<rect x="675.43" y="208.25" width="5.20" height="12.55" fill="#06c875" stroke="#2f8f62" stroke-width="0.8"/>
<rect x="685.23" y="175.00" width="1.45" height="33.75" fill="#8ca999"/>
<rect x="683.35" y="201.25" width="5.20" height="7.55" fill="#fd665e" stroke="#a8423f" stroke-width="0.8"/>
<rect x="693.15" y="209.50" width="1.45" height="20.00" fill="#8ca999"/>
<rect x="691.27" y="211.50" width="5.20" height="7.30" fill="#fd665e" stroke="#a8423f" stroke-width="0.8"/>
<rect x="701.07" y="182.00" width="1.45" height="25.00" fill="#8ca999"/>
<rect x="699.19" y="201.50" width="5.20" height="1.30" fill="#06c875" stroke="#2f8f62" stroke-width="0.8"/>
<rect x="708.99" y="200.75" width="1.45" height="25.00" fill="#8ca999"/>
<rect x="707.11" y="201.50" width="5.20" height="17.80" fill="#fd665e" stroke="#a8423f" stroke-width="0.8"/>
<rect x="716.91" y="222.00" width="1.45" height="23.75" fill="#8ca999"/>
<rect x="714.63" y="231.00" width="6.00" height="1.25" fill="#a53d3b"/>
<rect x="724.83" y="199.50" width="1.45" height="22.25" fill="#8ca999"/>
<rect x="722.95" y="201.75" width="5.20" height="20.05" fill="#06c875" stroke="#2f8f62" stroke-width="0.8"/>
<rect x="732.75" y="188.75" width="1.45" height="12.50" fill="#8ca999"/>
<rect x="730.87" y="189.75" width="5.20" height="7.80" fill="#fd665e" stroke="#a8423f" stroke-width="0.8"/>
<rect x="740.67" y="190.50" width="1.45" height="27.00" fill="#8ca999"/>
<rect x="738.79" y="191.25" width="5.20" height="12.55" fill="#06c875" stroke="#2f8f62" stroke-width="0.8"/>
<rect x="748.59" y="155.50" width="1.45" height="47.50" fill="#8ca999"/>
<rect x="746.71" y="162.75" width="5.20" height="28.80" fill="#06c875" stroke="#2f8f62" stroke-width="0.8"/>
<rect x="756.51" y="113.00" width="1.45" height="26.50" fill="#8ca999"/>
<rect x="754.63" y="126.50" width="5.20" height="12.30" fill="#06c875" stroke="#2f8f62" stroke-width="0.8"/>
<rect x="764.43" y="108.75" width="1.45" height="23.25" fill="#8ca999"/>
<rect x="762.55" y="111.50" width="5.20" height="4.30" fill="#fd665e" stroke="#a8423f" stroke-width="0.8"/>
<rect x="772.35" y="134.00" width="1.45" height="51.50" fill="#8ca999"/>
<rect x="770.47" y="134.75" width="5.20" height="25.80" fill="#fd665e" stroke="#a8423f" stroke-width="0.8"/>
<rect x="780.27" y="146.75" width="1.45" height="28.75" fill="#8ca999"/>
<rect x="777.99" y="159.00" width="6.00" height="1.00" fill="#a53d3b"/>
<rect x="788.19" y="120.00" width="1.45" height="36.25" fill="#8ca999"/>
<rect x="786.31" y="125.00" width="5.20" height="31.30" fill="#06c875" stroke="#2f8f62" stroke-width="0.8"/>
<rect x="796.11" y="104.50" width="1.45" height="27.50" fill="#8ca999"/>
<rect x="794.23" y="119.50" width="5.20" height="12.55" fill="#fd665e" stroke="#a8423f" stroke-width="0.8"/>
<rect x="804.03" y="115.50" width="1.45" height="71.25" fill="#8ca999"/>
<rect x="802.15" y="129.00" width="5.20" height="53.55" fill="#fd665e" stroke="#a8423f" stroke-width="0.8"/>
<rect x="811.95" y="150.75" width="1.45" height="38.00" fill="#8ca999"/>
<rect x="810.07" y="166.00" width="5.20" height="9.55" fill="#fd665e" stroke="#a8423f" stroke-width="0.8"/>
<rect x="819.87" y="176.25" width="1.45" height="42.50" fill="#8ca999"/>
<rect x="817.99" y="182.00" width="5.20" height="23.05" fill="#06c875" stroke="#2f8f62" stroke-width="0.8"/>
<rect x="827.79" y="96.25" width="1.45" height="42.50" fill="#8ca999"/>
<rect x="825.91" y="118.25" width="5.20" height="19.30" fill="#06c875" stroke="#2f8f62" stroke-width="0.8"/>
<rect x="835.71" y="72.50" width="1.45" height="54.50" fill="#8ca999"/>
<rect x="833.83" y="72.75" width="5.20" height="38.55" fill="#06c875" stroke="#2f8f62" stroke-width="0.8"/>
<rect x="843.63" y="58.00" width="1.45" height="57.75" fill="#8ca999"/>
<rect x="841.75" y="78.50" width="5.20" height="32.80" fill="#06c875" stroke="#2f8f62" stroke-width="0.8"/>
<rect x="851.55" y="51.25" width="1.45" height="36.25" fill="#8ca999"/>
<rect x="849.67" y="62.75" width="5.20" height="2.55" fill="#fd665e" stroke="#a8423f" stroke-width="0.8"/>
<rect x="859.47" y="39.25" width="1.45" height="28.75" fill="#8ca999"/>
<rect x="857.59" y="44.00" width="5.20" height="21.05" fill="#06c875" stroke="#2f8f62" stroke-width="0.8"/>
<rect x="867.39" y="48.25" width="1.45" height="21.75" fill="#8ca999"/>
<rect x="865.51" y="59.00" width="5.20" height="6.55" fill="#fd665e" stroke="#a8423f" stroke-width="0.8"/>
<rect x="875.31" y="44.25" width="1.45" height="16.50" fill="#8ca999"/>
<rect x="873.03" y="57.00" width="6.00" height="0.80" fill="#3f6d55"/>
<rect x="883.23" y="41.50" width="1.45" height="38.00" fill="#8ca999"/>
<rect x="881.35" y="42.00" width="5.20" height="15.55" fill="#fd665e" stroke="#a8423f" stroke-width="0.8"/>
<rect x="891.15" y="46.25" width="1.45" height="20.50" fill="#8ca999"/>
<rect x="888.87" y="52.00" width="6.00" height="1.00" fill="#3f6d55"/>
<rect x="899.07" y="50.00" width="1.45" height="15.75" fill="#8ca999"/>
<rect x="897.19" y="60.25" width="5.20" height="1.30" fill="#fd665e" stroke="#a8423f" stroke-width="0.8"/>
<rect x="906.99" y="57.00" width="1.45" height="16.25" fill="#8ca999"/>
<rect x="904.71" y="67.00" width="6.00" height="1.00" fill="#3f6d55"/>
<rect x="914.91" y="65.00" width="1.45" height="37.50" fill="#8ca999"/>
<rect x="913.03" y="76.50" width="5.20" height="9.05" fill="#fd665e" stroke="#a8423f" stroke-width="0.8"/>
<rect x="922.83" y="83.00" width="1.45" height="21.50" fill="#8ca999"/>
<rect x="920.95" y="88.25" width="5.20" height="12.30" fill="#fd665e" stroke="#a8423f" stroke-width="0.8"/>
<rect x="930.75" y="88.00" width="1.45" height="22.50" fill="#8ca999"/>
<rect x="928.87" y="101.25" width="5.20" height="3.55" fill="#fd665e" stroke="#a8423f" stroke-width="0.8"/>
<rect x="938.67" y="121.75" width="1.45" height="41.50" fill="#8ca999"/>
<rect x="936.79" y="122.00" width="5.20" height="21.30" fill="#06c875" stroke="#2f8f62" stroke-width="0.8"/>
<rect x="3" y="121.1" width="986" height="1" fill="#5878ee" fill-opacity="0.3"/>
<line x1="408.75" y1="342.4" x2="986.9" y2="167.6" stroke="#22a081" stroke-width="1.75" stroke-linecap="butt"/>
<rect x="2.8" y="367.6" width="1020.4" height="1.7" fill="#8f8f8f"/>
<rect x="988.3" y="2.3" width="1.3" height="478.5" fill="#adadad"/>
<rect x="2.8" y="480.2" width="986.5" height="1.2" fill="#a0a0a0"/>
<rect x="4.93" y="481" width="1" height="2.2" fill="#a0a0a0"/>
<rect x="60.37" y="481" width="1" height="2.2" fill="#a0a0a0"/>
<rect x="115.81" y="481" width="1" height="2.2" fill="#a0a0a0"/>
<rect x="171.25" y="481" width="1" height="2.2" fill="#a0a0a0"/>
<rect x="226.69" y="481" width="1" height="2.2" fill="#a0a0a0"/>
<rect x="282.13" y="481" width="1" height="2.2" fill="#a0a0a0"/>
<rect x="337.57" y="481" width="1" height="2.2" fill="#a0a0a0"/>
<rect x="408.85" y="481" width="1" height="2.2" fill="#a0a0a0"/>
<rect x="464.29" y="481" width="1" height="2.2" fill="#a0a0a0"/>
<rect x="519.73" y="481" width="1" height="2.2" fill="#a0a0a0"/>
<rect x="575.17" y="481" width="1" height="2.2" fill="#a0a0a0"/>
<rect x="630.61" y="481" width="1" height="2.2" fill="#a0a0a0"/>
<rect x="686.05" y="481" width="1" height="2.2" fill="#a0a0a0"/>
<rect x="749.41" y="481" width="1" height="2.2" fill="#a0a0a0"/>
<rect x="804.85" y="481" width="1" height="2.2" fill="#a0a0a0"/>
<rect x="860.29" y="481" width="1" height="2.2" fill="#a0a0a0"/>
<rect x="931.57" y="481" width="1" height="2.2" fill="#a0a0a0"/>
<rect x="987.01" y="481" width="1" height="2.2" fill="#a0a0a0"/>
<text x="60.87" y="490" font-size="7" font-weight="bold" fill="#5a5a5a" text-anchor="middle">Juin</text>
<text x="227.19" y="490" font-size="7" font-weight="bold" fill="#5a5a5a" text-anchor="middle">Juill</text>
<text x="409.35" y="490" font-size="7" font-weight="bold" fill="#5a5a5a" text-anchor="middle">Août</text>
<text x="575.67" y="490" font-size="7" font-weight="bold" fill="#5a5a5a" text-anchor="middle">Sept</text>
<text x="749.91" y="490" font-size="7" font-weight="bold" fill="#5a5a5a" text-anchor="middle">Oct</text>
<text x="932.07" y="490" font-size="7" font-weight="bold" fill="#5a5a5a" text-anchor="middle">Nov</text>
<text x="5.4" y="490" font-size="7" fill="#858585" text-anchor="middle">22</text>
<rect x="989.5" y="6.93" width="1.5" height="1" fill="#8a8a8a"/>
<text x="993" y="10.03" font-size="7.15" fill="#808080">8350.00</text>
<rect x="989.5" y="27.21" width="1.5" height="1" fill="#8a8a8a"/>
<text x="993" y="30.32" font-size="7.15" fill="#808080">8300.00</text>
<rect x="989.5" y="47.50" width="1.5" height="1" fill="#8a8a8a"/>
<text x="993" y="50.60" font-size="7.15" fill="#808080">8250.00</text>
<rect x="989.5" y="67.78" width="1.5" height="1" fill="#8a8a8a"/>
<text x="993" y="70.88" font-size="7.15" fill="#808080">8200.00</text>
<rect x="989.5" y="88.07" width="1.5" height="1" fill="#8a8a8a"/>
<text x="993" y="91.17" font-size="7.15" fill="#808080">8150.00</text>
<rect x="989.5" y="108.36" width="1.5" height="1" fill="#8a8a8a"/>
<text x="993" y="111.45" font-size="7.15" fill="#808080">8100.00</text>
<rect x="989.5" y="128.64" width="1.5" height="1" fill="#8a8a8a"/>
<text x="993" y="131.74" font-size="7.15" fill="#808080">8050.00</text>
<rect x="989.5" y="148.93" width="1.5" height="1" fill="#8a8a8a"/>
<text x="993" y="152.03" font-size="7.15" fill="#808080">8000.00</text>
<rect x="989.5" y="169.21" width="1.5" height="1" fill="#8a8a8a"/>
<text x="993" y="172.31" font-size="7.15" fill="#808080">7950.00</text>
<rect x="989.5" y="189.50" width="1.5" height="1" fill="#8a8a8a"/>
<text x="993" y="192.59" font-size="7.15" fill="#808080">7900.00</text>
<rect x="989.5" y="209.78" width="1.5" height="1" fill="#8a8a8a"/>
<text x="993" y="212.88" font-size="7.15" fill="#808080">7850.00</text>
<rect x="989.5" y="230.06" width="1.5" height="1" fill="#8a8a8a"/>
<text x="993" y="233.16" font-size="7.15" fill="#808080">7800.00</text>
<rect x="989.5" y="250.35" width="1.5" height="1" fill="#8a8a8a"/>
<text x="993" y="253.45" font-size="7.15" fill="#808080">7750.00</text>
<rect x="989.5" y="270.63" width="1.5" height="1" fill="#8a8a8a"/>
<text x="993" y="273.74" font-size="7.15" fill="#808080">7700.00</text>
<rect x="989.5" y="290.92" width="1.5" height="1" fill="#8a8a8a"/>
<text x="993" y="294.02" font-size="7.15" fill="#808080">7650.00</text>
<rect x="989.5" y="311.20" width="1.5" height="1" fill="#8a8a8a"/>
<text x="993" y="314.31" font-size="7.15" fill="#808080">7600.00</text>
<rect x="989.5" y="331.49" width="1.5" height="1" fill="#8a8a8a"/>
<text x="993" y="334.59" font-size="7.15" fill="#808080">7550.00</text>
<rect x="989.5" y="351.77" width="1.5" height="1" fill="#8a8a8a"/>
<text x="993" y="354.88" font-size="7.15" fill="#808080">7500.00</text>
<rect x="989.5" y="374.00" width="1.5" height="1" fill="#8a8a8a"/>
<text x="993" y="377.00" font-size="7.15" fill="#808080">160M</text>
<rect x="989.5" y="399.00" width="1.5" height="1" fill="#8a8a8a"/>
<text x="993" y="402.00" font-size="7.15" fill="#808080">120M</text>
<rect x="989.5" y="424.00" width="1.5" height="1" fill="#8a8a8a"/>
<text x="993" y="427.00" font-size="7.15" fill="#808080">80M</text>
<rect x="989.5" y="449.00" width="1.5" height="1" fill="#8a8a8a"/>
<text x="993" y="452.00" font-size="7.15" fill="#808080">40M</text>
<rect x="989.5" y="474.00" width="1.5" height="1" fill="#8a8a8a"/>
<text x="993" y="477.00" font-size="7.15" fill="#808080">0</text>
<rect x="988.60" y="116.85" width="32.90" height="10.30" fill="#4a6fe8"/>
<text x="993" y="124.55" font-size="7.15" fill="#fff">8067.53</text>
<rect x="988.60" y="166.00" width="32.90" height="10.60" fill="#1010f5"/>
<text x="993" y="173.85" font-size="7.15" fill="#fff">7946.87</text>
<rect x="988.60" y="204.40" width="32.90" height="10.40" fill="#6fa04a"/>
<text x="993" y="212.15" font-size="7.15" fill="#fff">7852.35</text>
<rect x="988.60" y="214.80" width="32.90" height="10.40" fill="#a322f2"/>
<text x="993" y="222.55" font-size="7.15" fill="#fff">7838.27</text>
<rect x="988.60" y="425.25" width="34.40" height="9.30" fill="#0a0a0a"/>
<text x="993" y="432.45" font-size="7.15" fill="#fff">58.347M</text>
<rect x="988.60" y="435.95" width="34.40" height="9.30" fill="#14c47c"/>
<text x="993" y="443.15" font-size="7.15" fill="#fff">54.448M</text>
<rect x="6.8" y="9.9" width="7" height="7.4" rx="1" fill="#fff" stroke="#9a9a9a" stroke-width="0.9"/>
<rect x="8.3" y="13.1" width="4" height="0.9" fill="#9a9a9a"/>
<text x="18.7" y="17.9" font-size="10.6" fill="#4e4e4e">CAC 40, France, D, Paris</text>
<path d="M142 12.9h4.4l-2.2 2.2z" fill="#c6c6c6"/>
<rect x="152.70" y="9.50" width="8.80" height="8.80" fill="#dedede"/>
<ellipse cx="157.10" cy="13.90" rx="3" ry="2.35" fill="none" stroke="#fff" stroke-width="0.9"/>
<circle cx="157.10" cy="13.90" r="1" fill="none" stroke="#fff" stroke-width="0.7"/>
<rect x="164.00" y="9.50" width="8.80" height="8.80" fill="#dedede"/>
<circle cx="168.40" cy="13.90" r="2.6" fill="none" stroke="#fff" stroke-width="1.3" stroke-dasharray="1.3 0.74"/>
<circle cx="168.40" cy="13.90" r="2" fill="none" stroke="#fff" stroke-width="1.1"/>
<circle cx="168.40" cy="13.90" r="0.7" fill="#fff"/>
<text x="177.80" y="18.4" font-size="9.2" fill="#6a6a6a">O</text>
<text x="186.00" y="18.4" font-size="9.2" fill="#2f7450" stroke="#2f7450" stroke-width="0.15">8014.47</text>
<text x="226.20" y="18.4" font-size="9.2" fill="#6a6a6a">H</text>
<text x="233.50" y="18.4" font-size="9.2" fill="#2f7450" stroke="#2f7450" stroke-width="0.15">8067.58</text>
<text x="273.00" y="18.4" font-size="9.2" fill="#6a6a6a">B</text>
<text x="279.80" y="18.4" font-size="9.2" fill="#2f7450" stroke="#2f7450" stroke-width="0.15">7963.69</text>
<text x="320.00" y="18.4" font-size="9.2" fill="#6a6a6a">C</text>
<text x="326.60" y="18.4" font-size="9.2" fill="#2f7450" stroke="#2f7450" stroke-width="0.15">8067.53</text>
<text x="6.4" y="30.20" font-size="7.65" fill="#575757">MA (50, close, 0)</text>
<path d="M67.50 26.70h4.2l-2.1 2.1z" fill="#c6c6c6"/>
<rect x="78.40" y="23.20" width="8.80" height="8.80" fill="#dedede"/>
<ellipse cx="82.80" cy="27.60" rx="3" ry="2.35" fill="none" stroke="#fff" stroke-width="0.9"/>
<circle cx="82.80" cy="27.60" r="1" fill="none" stroke="#fff" stroke-width="0.7"/>
<rect x="89.60" y="23.20" width="8.80" height="8.80" fill="#dedede"/>
<circle cx="94.00" cy="27.60" r="2.6" fill="none" stroke="#fff" stroke-width="1.3" stroke-dasharray="1.3 0.74"/>
<circle cx="94.00" cy="27.60" r="2" fill="none" stroke="#fff" stroke-width="1.1"/>
<circle cx="94.00" cy="27.60" r="0.7" fill="#fff"/>
<rect x="100.60" y="23.20" width="8.80" height="8.80" fill="#dedede"/>
<path d="M102.20 24.80l5.6 5.6M107.80 24.80l-5.6 5.6" stroke="#fff" stroke-width="1.25" fill="none"/>
<text x="114.90" y="30.20" font-size="7.4" fill="#2a2af2" stroke="#2a2af2" stroke-width="0.25">7946.8712</text>
<text x="6.4" y="44.00" font-size="7.65" fill="#575757">MA (100, close, 0)</text>
<path d="M71.20 40.50h4.2l-2.1 2.1z" fill="#c6c6c6"/>
<rect x="82.60" y="37.00" width="8.80" height="8.80" fill="#dedede"/>
<ellipse cx="87.00" cy="41.40" rx="3" ry="2.35" fill="none" stroke="#fff" stroke-width="0.9"/>
<circle cx="87.00" cy="41.40" r="1" fill="none" stroke="#fff" stroke-width="0.7"/>
<rect x="93.80" y="37.00" width="8.80" height="8.80" fill="#dedede"/>
<circle cx="98.20" cy="41.40" r="2.6" fill="none" stroke="#fff" stroke-width="1.3" stroke-dasharray="1.3 0.74"/>
<circle cx="98.20" cy="41.40" r="2" fill="none" stroke="#fff" stroke-width="1.1"/>
<circle cx="98.20" cy="41.40" r="0.7" fill="#fff"/>
<rect x="104.80" y="37.00" width="8.80" height="8.80" fill="#dedede"/>
<path d="M106.40 38.60l5.6 5.6M112.00 38.60l-5.6 5.6" stroke="#fff" stroke-width="1.25" fill="none"/>
<text x="119.30" y="44.00" font-size="7.4" fill="#6ba551" stroke="#6ba551" stroke-width="0.25">7852.3477</text>
<text x="6.4" y="57.30" font-size="7.65" fill="#575757">MA (200, close, 0)</text>
<path d="M71.20 53.80h4.2l-2.1 2.1z" fill="#c6c6c6"/>
<rect x="82.60" y="50.30" width="8.80" height="8.80" fill="#dedede"/>
<ellipse cx="87.00" cy="54.70" rx="3" ry="2.35" fill="none" stroke="#fff" stroke-width="0.9"/>
<circle cx="87.00" cy="54.70" r="1" fill="none" stroke="#fff" stroke-width="0.7"/>
<rect x="93.80" y="50.30" width="8.80" height="8.80" fill="#dedede"/>
<circle cx="98.20" cy="54.70" r="2.6" fill="none" stroke="#fff" stroke-width="1.3" stroke-dasharray="1.3 0.74"/>
<circle cx="98.20" cy="54.70" r="2" fill="none" stroke="#fff" stroke-width="1.1"/>
<circle cx="98.20" cy="54.70" r="0.7" fill="#fff"/>
<rect x="104.80" y="50.30" width="8.80" height="8.80" fill="#dedede"/>
<path d="M106.40 51.90l5.6 5.6M112.00 51.90l-5.6 5.6" stroke="#fff" stroke-width="1.25" fill="none"/>
<text x="119.30" y="57.30" font-size="7.4" fill="#a52cf0" stroke="#a52cf0" stroke-width="0.25">7838.2698</text>
<circle cx="930.9" cy="13.6" r="1.9" fill="#858585"/>
<text x="935.7" y="16.2" font-size="7.5" fill="#7d7d7d">Market Closed</text>
<text x="6.3" y="381.9" font-size="7.6" fill="#575757">Volume (20)</text>
<path d="M51.1 378.5h4.2l-2.1 2.1z" fill="#c6c6c6"/>
<rect x="62.30" y="374.70" width="8.80" height="8.80" fill="#dedede"/>
<ellipse cx="66.70" cy="379.10" rx="3" ry="2.35" fill="none" stroke="#fff" stroke-width="0.9"/>
<circle cx="66.70" cy="379.10" r="1" fill="none" stroke="#fff" stroke-width="0.7"/>
<rect x="73.20" y="374.70" width="8.80" height="8.80" fill="#dedede"/>
<circle cx="77.60" cy="379.10" r="2.6" fill="none" stroke="#fff" stroke-width="1.3" stroke-dasharray="1.3 0.74"/>
<circle cx="77.60" cy="379.10" r="2" fill="none" stroke="#fff" stroke-width="1.1"/>
<circle cx="77.60" cy="379.10" r="0.7" fill="#fff"/>
<rect x="84.20" y="374.70" width="8.80" height="8.80" fill="#dedede"/>
<path d="M85.80 376.30l5.6 5.6M91.40 376.30l-5.6 5.6" stroke="#fff" stroke-width="1.25" fill="none"/>
<text x="98.7" y="381.5" font-size="7.4" fill="#19c07a" stroke="#19c07a" stroke-width="0.2">54.448M</text>
<text x="133.7" y="381.5" font-size="7.4" fill="#222" stroke="#222" stroke-width="0.2">58.347M</text>
<text x="11.4" y="358.1" font-size="13.6" font-weight="bold" fill="#0a0a0a" stroke="#0a0a0a" stroke-width="0.45" textLength="57.8" lengthAdjust="spacingAndGlyphs">Investing</text>
<circle cx="51.6" cy="347.9" r="1.45" fill="#f5a623"/>
<text x="69.9" y="358.1" font-size="9.2" fill="#4a4a4a" textLength="19" lengthAdjust="spacingAndGlyphs">.com</text>
<rect x="0" y="0" width="2.8" height="492" fill="#eceff4"/>
</svg></body></html>
